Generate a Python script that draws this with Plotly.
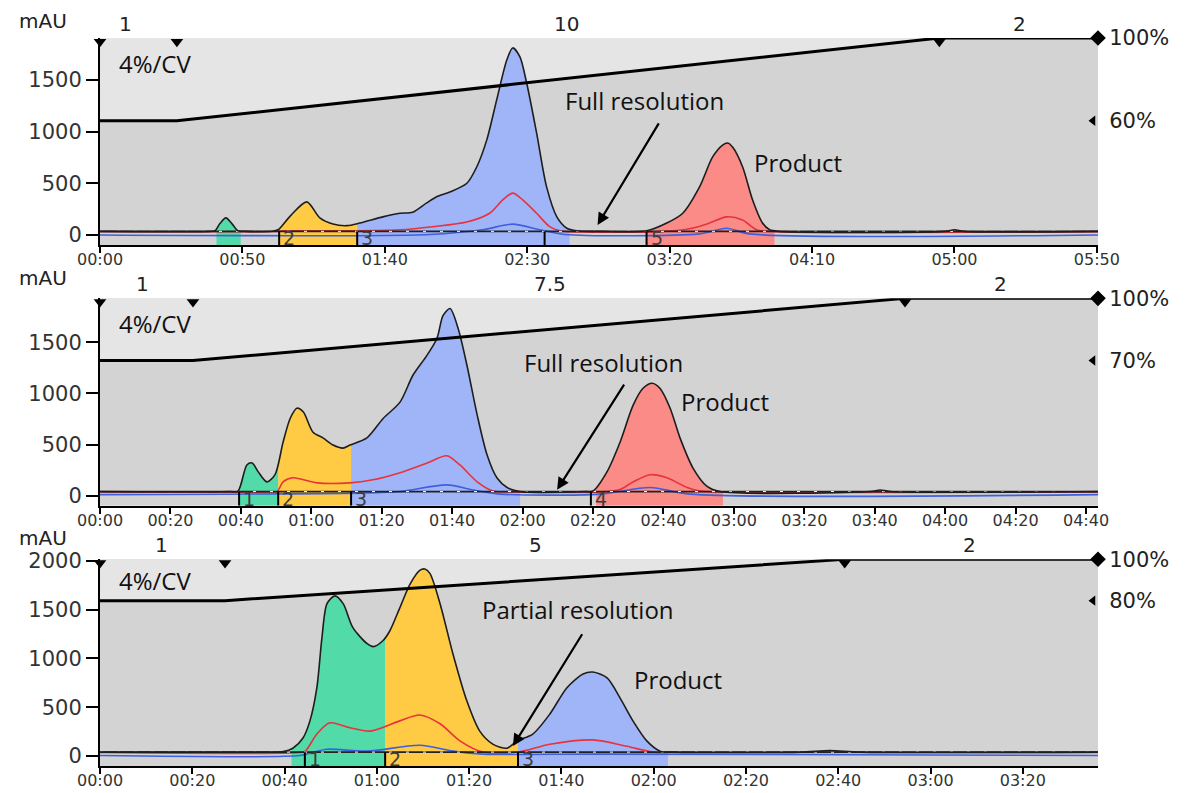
import numpy as np
import plotly.graph_objects as go

# ---------------- Panel 1 : 10 CV gradient (60% -> 100%) ----------------
p1_uv_t = [0, 38.6, 40.4, 42.1, 44.2, 46.3, 48.4, 50.9, 60.4, 62.5, 66.7, 72.6, 77.2, 81.8, 86.7,
           91.2, 99.3, 105.3, 109.8, 114.7, 118.2, 122.8, 128.8, 132.3, 135.8, 139.3, 142.8, 144.9,
           147.4, 149.8, 153.3, 156.8, 160.4, 163.9, 167.4, 175.4, 191.9, 199.0, 204.6, 210.5, 215.1,
           218.6, 220.4, 222.1, 225.6, 229.1, 232.6, 235.1, 238.6, 296.5, 300.0, 303.5, 350.4]
p1_uv = [35, 35, 40, 110, 165, 110, 40, 35, 35, 50, 180, 320, 165, 105, 90,
         115, 175, 210, 220, 310, 370, 415, 500, 660, 920, 1310, 1690, 1810,
         1725, 1470, 985, 465, 175, 65, 40, 35, 40, 115, 210, 465, 755,
         870, 890, 850, 660, 340, 115, 50, 35, 35, 50, 35, 35]
p1_red_t = [0, 59.6, 66.7, 87.7, 105.3, 116.8, 128.8, 136.8, 141.4, 144.9, 148.4, 153.3, 157.9,
            162.5, 168.4, 196.5, 207.0, 214.0, 220.0, 225.6, 230.5, 236.8, 350.4]
p1_red = [33, 33, 40, 40, 50, 80, 125, 210, 340, 405, 340, 210, 80,
          35, 30, 32, 60, 115, 175, 145, 50, 32, 32]
p1_blue_t = [0, 115.8, 134.4, 144.9, 154.4, 163.2, 210.5, 220.0, 228.1, 350.4]
p1_blue = [0, 5, 50, 105, 50, 5, 10, 65, 10, 0]
p1_dash_level = 35
p1_grad_t = [0, 27.0, 294.7, 350.4]
p1_grad_pct = [60, 60, 100, 100]
p1_peaks = [(40.9, 49.4), (62.9, 90.3), (90.3, 164.9), (191.9, 236.8)]
p1_frac_t = [62.9, 90.3, 156.1, 191.9]
p1_frac_lbl = ["2", "3", "", "5"]
p1_phase_lbl = [(8.8, "1"), (163.9, "10"), (322.8, "2")]
p1_ticks = list(range(0, 351, 50))

# ---------------- Panel 2 : 7.5 CV gradient (70% -> 100%) ----------------
p2_uv_t = [0, 36.9, 39.2, 41.7, 43.2, 44.9, 47.4, 49.7, 52.0, 54.0, 55.9, 57.7, 60.5, 63.3, 66.2,
           69.0, 71.0, 75.8, 80.4, 85.2, 88.9, 92.9, 95.7, 97.4, 99.4, 101.7, 104.2, 107.1, 109.9,
           112.7, 115.6, 119.3, 137.7, 140.0, 144.0, 147.7, 151.4, 154.2, 156.8, 159.0, 161.9,
           164.7, 168.4, 172.4, 176.1, 218.7, 221.5, 224.4, 283.4]
p2_uv = [40, 40, 45, 300, 320, 235, 135, 205, 525, 755, 855, 820, 620, 565, 495,
         465, 495, 565, 755, 915, 1180, 1375, 1540, 1760, 1830, 1635, 1275, 790, 400,
         175, 80, 40, 40, 45, 235, 525, 885, 1050, 1100, 1050, 855,
         565, 270, 90, 40, 40, 55, 40, 40]
p2_red_t = [0, 48.3, 50.3, 52.0, 54.8, 61.6, 71.0, 77.5, 85.2, 92.9, 98.5, 102.2, 107.1, 111.6,
            116.4, 142.0, 147.7, 151.4, 156.2, 161.0, 166.7, 170.4, 176.1, 283.4]
p2_red = [36, 36, 40, 135, 175, 125, 125, 155, 225, 320, 390, 300, 135, 45,
          36, 36, 60, 135, 205, 175, 80, 45, 36, 36]
p2_blue_t = [0, 73.8, 85.2, 98.5, 105.9, 113.6, 142.0, 156.2, 167.6, 283.4]
p2_blue = [10, 25, 40, 105, 55, 15, 15, 80, 15, 10]
p2_dash_level = 40
p2_grad_t = [0, 26.4, 228.6, 283.4]
p2_grad_pct = [70, 70, 100, 100]
p2_peaks = [(39.5, 50.6), (50.6, 71.3), (71.3, 119.3), (140.9, 176.9)]
p2_frac_t = [39.5, 50.6, 71.3, 139.4]
p2_frac_lbl = ["1", "2", "3", "4"]
p2_phase_lbl = [(12.2, "1"), (127.8, "7.5"), (255.6, "2")]
p2_ticks = list(range(0, 281, 20))

# ---------------- Panel 3 : 5 CV gradient (80% -> 100%) ----------------
p3_uv_t = [0, 36.8, 39.7, 41.8, 44.0, 45.5, 47.0, 48.1, 49.2, 50.9, 52.7, 54.8, 57.9, 59.2, 61.3,
           62.8, 65.0, 67.2, 69.3, 70.4, 71.5, 73.7, 76.5, 79.5, 82.3, 85.2, 88.2, 90.4, 93.8,
           97.5, 101.2, 104.7, 106.8, 109.9, 112.7, 115.5, 118.5, 121.4, 124.6, 151.7, 158.2,
           164.7, 216.3]
p3_uv = [40, 40, 45, 80, 185, 360, 700, 1210, 1560, 1640, 1560, 1315, 1150, 1120, 1180,
         1280, 1520, 1760, 1900, 1915, 1870, 1560, 1045, 565, 255, 120, 80, 155, 225,
         430, 700, 840, 860, 800, 595, 360, 155, 50, 40, 40, 55,
         40, 40]
p3_red_t = [0, 43.3, 44.5, 47.0, 49.8, 54.2, 58.5, 65.0, 69.3, 73.7, 78.0, 83.0, 90.4, 97.5,
            106.8, 114.2, 119.8, 125.7, 216.3]
p3_red = [36, 36, 50, 225, 340, 290, 255, 360, 420, 330, 155, 40, 38, 120,
          165, 100, 40, 36, 36]
p3_blue_t = [0, 43.3, 45.5, 49.2, 57.9, 69.3, 76.5, 83.0, 108.4, 216.3]
p3_blue = [5, 5, 30, 70, 50, 110, 50, 20, 20, 5]
p3_dash_level = 40
p3_grad_t = [0, 27.1, 161.4, 216.3]
p3_grad_pct = [80, 80, 100, 100]
p3_peaks = [(41.5, 61.8), (61.8, 90.6), (90.6, 123.1)]
p3_frac_t = [44.4, 61.8, 90.6]
p3_frac_lbl = ["1", "2", "3"]
p3_phase_lbl = [(13.4, "1"), (94.3, "5"), (188.5, "2")]
p3_ticks = list(range(0, 201, 20))

# ---------------- styles ----------------
GREEN, YELLOW, BLUE, RED = "#52dba8", "#ffcb45", "#9fb5f8", "#fb8b86"
BG, LIGHT = "#d3d3d3", "#e5e5e5"
TICKFONT = "DejaVu Sans"
TEXTFONT = "Open Sans"

panels = [
    dict(uv_t=p1_uv_t, uv=p1_uv, red_t=p1_red_t, red=p1_red, blue_t=p1_blue_t, blue=p1_blue,
         dash=p1_dash_level, grad_t=p1_grad_t, grad=p1_grad_pct, peaks=p1_peaks,
         colors=[GREEN, YELLOW, BLUE, RED], frac_t=p1_frac_t, frac_lbl=p1_frac_lbl,
         phase=p1_phase_lbl, ticks=p1_ticks, yr=[-97, 1906], yticks=[0, 500, 1000, 1500],
         domain=[0.7157, 1.0],
         cv=(6.0, 1655), res=("Full resolution", 191.2, 1297), arrow=(174.7, 97, 196.5, 1094),
         prod=(228.8, 697), mau_y=1.023),
    dict(uv_t=p2_uv_t, uv=p2_uv, red_t=p2_red_t, red=p2_red, blue_t=p2_blue_t, blue=p2_blue,
         dash=p2_dash_level, grad_t=p2_grad_t, grad=p2_grad_pct, peaks=p2_peaks,
         colors=[GREEN, YELLOW, BLUE, RED], frac_t=p2_frac_t, frac_lbl=p2_frac_lbl,
         phase=p2_phase_lbl, ticks=p2_ticks, yr=[-98, 1930], yticks=[0, 500, 1000, 1500],
         domain=[0.3576, 0.6424],
         cv=(4.8, 1685), res=("Full resolution", 142.9, 1305), arrow=(129.8, 58, 149.1, 1100),
         prod=(164.4, 925), mau_y=0.670),
    dict(uv_t=p3_uv_t, uv=p3_uv, red_t=p3_red_t, red=p3_red, blue_t=p3_blue_t, blue=p3_blue,
         dash=p3_dash_level, grad_t=p3_grad_t, grad=p3_grad_pct, peaks=p3_peaks,
         colors=[GREEN, YELLOW, BLUE], frac_t=p3_frac_t, frac_lbl=p3_frac_lbl,
         phase=p3_phase_lbl, ticks=p3_ticks, yr=[-102, 2014], yticks=[0, 500, 1000, 1500, 2000],
         domain=[0.0, 0.2839],
         cv=(3.7, 1795), res=("Partial resolution", 103.6, 1497), arrow=(89.5, 103, 104.7, 1262),
         prod=(115.3, 780), mau_y=0.3136),
]


def segment(t, y, a, b):
    t = np.asarray(t, float)
    y = np.asarray(y, float)
    m = (t > a) & (t < b)
    xs = np.concatenate([[a], t[m], [b]])
    ys = np.concatenate([[np.interp(a, t, y)], y[m], [np.interp(b, t, y)]])
    return xs, ys


fig = go.Figure()
# the page body adds an 8px offset, so the figure is made 8px smaller
layout = dict(width=1180, height=785, margin=dict(l=92, r=90, t=30, b=27, autoexpand=False),
              paper_bgcolor="white", plot_bgcolor=BG, showlegend=False)
annotations = []

for i, p in enumerate(panels):
    xa = "x" if i == 0 else f"x{i+1}"
    xk = "xaxis" if i == 0 else f"xaxis{i+1}"
    nb, nm, npc = 3 * i + 1, 3 * i + 2, 3 * i + 3
    yb = "y" if nb == 1 else f"y{nb}"
    ybk = "yaxis" if nb == 1 else f"yaxis{nb}"
    ym, yp = f"y{nm}", f"y{npc}"
    xmax = p["grad_t"][-1]
    ylo, yhi = p["yr"]
    common = dict(hoverinfo="skip", showlegend=False)

    # light region above the gradient (base layer)
    fig.add_trace(go.Scatter(x=[p["grad_t"][0], p["grad_t"][-1]], y=[100, 100], xaxis=xa, yaxis=yb,
                             mode="lines", line=dict(width=0), **common))
    fig.add_trace(go.Scatter(x=p["grad_t"], y=p["grad"], xaxis=xa, yaxis=yb, mode="lines",
                             line=dict(width=0), fill="tonexty", fillcolor=LIGHT, **common))

    # peak fills
    for (a, b), col in zip(p["peaks"], p["colors"]):
        xs, ys = segment(p["uv_t"], p["uv"], a, b)
        fig.add_trace(go.Scatter(x=[a, b], y=[ylo, ylo], xaxis=xa, yaxis=ym, mode="lines",
                                 line=dict(width=0), **common))
        fig.add_trace(go.Scatter(x=xs, y=ys, xaxis=xa, yaxis=ym, mode="lines",
                                 line=dict(width=0, shape="spline", smoothing=0.8),
                                 fill="tonexty", fillcolor=col, **common))

    # blue and red traces
    fig.add_trace(go.Scatter(x=p["blue_t"], y=p["blue"], xaxis=xa, yaxis=ym, mode="lines",
                             line=dict(color="#3d5fe0", width=1.6, shape="spline", smoothing=0.8), **common))
    fig.add_trace(go.Scatter(x=p["red_t"], y=p["red"], xaxis=xa, yaxis=ym, mode="lines",
                             line=dict(color="#e8323c", width=1.6, shape="spline", smoothing=0.8), **common))
    # dashed baseline (black with white dashes)
    fig.add_trace(go.Scatter(x=[0, xmax], y=[p["dash"], p["dash"]], xaxis=xa, yaxis=ym, mode="lines",
                             line=dict(color="#222222", width=1.8), **common))
    fig.add_trace(go.Scatter(x=[0, xmax], y=[p["dash"], p["dash"]], xaxis=xa, yaxis=ym, mode="lines",
                             line=dict(color="white", width=1, dash="3px,14px"), **common))
    # UV trace
    fig.add_trace(go.Scatter(x=p["uv_t"], y=p["uv"], xaxis=xa, yaxis=ym, mode="lines",
                             line=dict(color="#1e1e1e", width=1.6, shape="spline", smoothing=0.8), **common))
    # fraction marks
    fx, fy = [], []
    for t in p["frac_t"]:
        fx += [t, t, None]
        fy += [ylo, p["dash"], None]
    fig.add_trace(go.Scatter(x=fx, y=fy, xaxis=xa, yaxis=ym, mode="lines",
                             line=dict(color="black", width=2), **common))
    for t, lbl in zip(p["frac_t"], p["frac_lbl"]):
        if lbl:
            annotations.append(dict(x=t, y=(ylo + p["dash"]) / 2, xref=xa, yref=ym, text=lbl,
                                    showarrow=False, xanchor="left", yanchor="middle", xshift=2,
                                    font=dict(family=TICKFONT, size=19, color="#3c3c3c")))

    # gradient line and phase markers (top layer)
    fig.add_trace(go.Scatter(x=p["grad_t"], y=p["grad"], xaxis=xa, yaxis=yp, mode="lines",
                             line=dict(color="black", width=3), **common))
    fig.add_trace(go.Scatter(x=p["grad_t"][:-1], y=[98.2] * (len(p["grad_t"]) - 1), xaxis=xa, yaxis=yp,
                             mode="markers", cliponaxis=False,
                             marker=dict(symbol="triangle-down", size=11, color="black"), **common))
    fig.add_trace(go.Scatter(x=[xmax], y=[100], xaxis=xa, yaxis=yp, mode="markers", cliponaxis=False,
                             marker=dict(symbol="diamond", size=12, color="black"), **common))
    fig.add_trace(go.Scatter(x=[xmax * 0.995], y=[p["grad"][0]], xaxis=xa, yaxis=yp, mode="markers",
                             cliponaxis=False, marker=dict(symbol="triangle-left", size=9, color="black"),
                             **common))

    for t, lbl in p["phase"]:
        annotations.append(dict(x=t, y=100, xref=xa, yref=yp, text=lbl, showarrow=False,
                                yanchor="bottom", yshift=0,
                                font=dict(family=TICKFONT, size=20, color="#222")))

    # texts
    annotations.append(dict(x=p["cv"][0], y=p["cv"][1], xref=xa, yref=ym, text="4%/CV", showarrow=False,
                            xanchor="left", yanchor="middle", font=dict(family=TEXTFONT, size=24, color="#111")))
    annotations.append(dict(x=p["res"][1], y=p["res"][2], xref=xa, yref=ym, text=p["res"][0],
                            showarrow=False, xanchor="center", yanchor="middle",
                            font=dict(family=TEXTFONT, size=24, color="#111")))
    annotations.append(dict(x=p["prod"][0], y=p["prod"][1], xref=xa, yref=ym, text="Product",
                            showarrow=False, xanchor="left", yanchor="middle",
                            font=dict(family=TEXTFONT, size=24, color="#111")))
    hx, hy, tx, ty = p["arrow"]
    annotations.append(dict(x=hx, y=hy, xref=xa, yref=ym, ax=tx, ay=ty, axref=xa, ayref=ym, text="",
                            showarrow=True, arrowhead=2, arrowsize=1.1, arrowwidth=2.2, arrowcolor="black"))
    annotations.append(dict(x=-0.057, y=p["mau_y"], xref="paper", yref="paper", text="mAU",
                            showarrow=False, xanchor="center", yanchor="middle",
                            font=dict(family=TICKFONT, size=20, color="#222")))

    # axes
    layout[xk] = dict(domain=[0, 1], anchor=yb, range=[0, xmax], tickvals=p["ticks"],
                      ticktext=[f"{v // 60:02d}:{v % 60:02d}" for v in p["ticks"]],
                      showline=True, linecolor="black", linewidth=2, ticks="outside", ticklen=6,
                      tickwidth=2, tickcolor="black", showgrid=False, zeroline=False, automargin=False,
                      ticklabelstandoff=-7,
                      tickfont=dict(family=TICKFONT, size=16, color="#333"))
    layout[ybk] = dict(domain=p["domain"], anchor=xa, range=[0, 100], showticklabels=False,
                       showline=False, ticks="", showgrid=False, zeroline=False, automargin=False)
    layout[f"yaxis{nm}"] = dict(overlaying=yb, anchor=xa, side="left", range=[ylo, yhi],
                                tickvals=p["yticks"], showline=True, linecolor="black", linewidth=2,
                                ticks="outside", ticklen=12, tickwidth=2, tickcolor="black",
                                showgrid=False, zeroline=False, automargin=False,
                                tickfont=dict(family=TICKFONT, size=21, color="#333"))
    layout[f"yaxis{npc}"] = dict(overlaying=yb, anchor=xa, side="right", range=[0, 100],
                                 tickvals=[p["grad"][0], 100],
                                 ticktext=[f"{p['grad'][0]}%", "100%"],
                                 ticks="outside", ticklen=6, tickcolor="rgba(0,0,0,0)",
                                 showline=False, showgrid=False, zeroline=False, automargin=False,
                                 tickfont=dict(family=TICKFONT, size=21, color="#222"))

layout["annotations"] = annotations
fig.update_layout(**layout)
fig.write_html("out.html")
